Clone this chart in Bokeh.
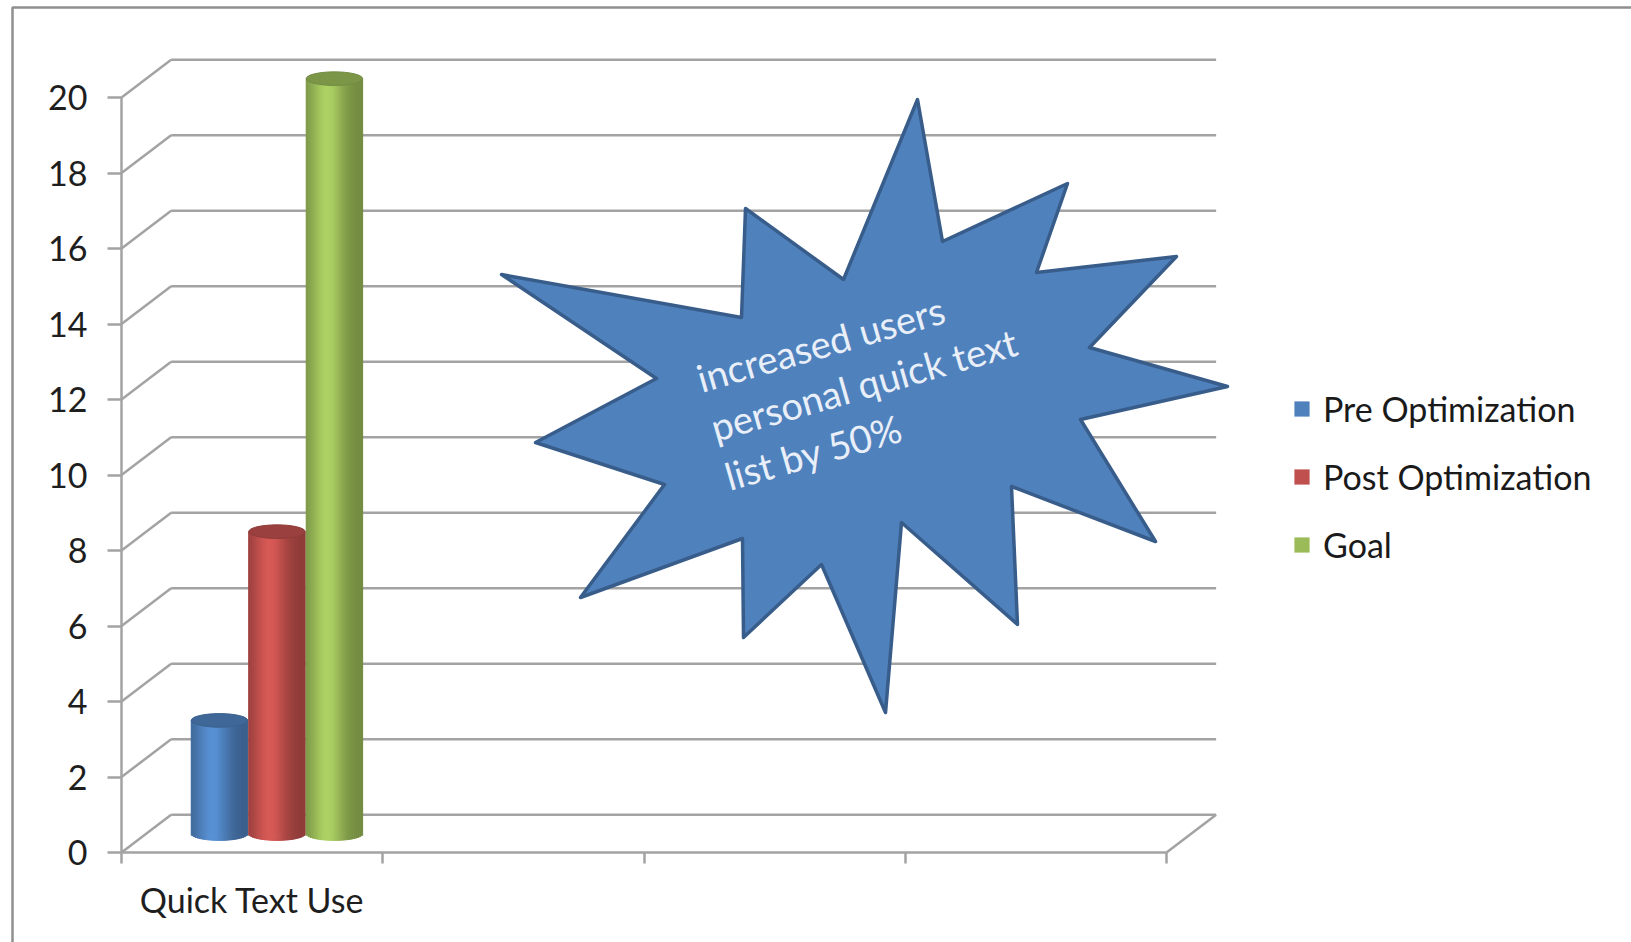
import math
from bokeh.plotting import figure
from bokeh.models import Range1d, FixedTicker, ColumnDataSource, Legend, LegendItem
from bokeh.core.properties import value
from bokeh.embed import file_html
from bokeh.resources import INLINE

# ---------------- data ----------------
categories = ["Quick Text Use", "", "", ""]
series = ["Pre Optimization", "Post Optimization", "Goal"]
values = [3, 8, 20]
colors = ["#4f81bd", "#c0504d", "#9bbb59"]
y_ticks = [0, 2, 4, 6, 8, 10, 12, 14, 16, 18, 20]
callout_lines = ["increased users", "personal quick text", "list by 50%"]

# ---------------- geometry / style ----------------
W, H = 1631, 942
X0_PX, X_UNIT = 121.0, 261.25      # pixel of x=0, pixels per category
Y0_PX, Y_UNIT = 852.0, 37.75       # pixel of y=0, pixels per unit
DX, DY = 0.19, 1.0                 # 3-D depth offset (data units)
BAR_STEP, BAR_W = 0.22, 0.216
ELL_H = 0.36
FONT = "Lato"
GRID = "#a3a3a3"


def px2x(px):
    return (px - X0_PX) / X_UNIT


def px2y(py):
    return (Y0_PX - py) / Y_UNIT


def shade(hexcol, f):
    r, g, b = int(hexcol[1:3], 16), int(hexcol[3:5], 16), int(hexcol[5:7], 16)
    c = [max(0, min(255, int(round(v * f)))) for v in (r, g, b)]
    return "#%02x%02x%02x" % tuple(c)


p = figure(width=W, height=H,
           x_range=Range1d(px2x(0), px2x(W)), y_range=Range1d(px2y(H), px2y(0)),
           output_backend="svg", toolbar_location=None, min_border=0,
           outline_line_color=None, background_fill_color="white",
           border_fill_color="white")
p.xgrid.visible = False
p.ygrid.visible = False

# outer chart border (top and left only visible)
p.line(x=[px2x(12), px2x(12), px2x(W + 5)], y=[px2y(H + 5), px2y(7), px2y(7)],
       line_color="#8f8f8f", line_width=2.5)

# ---------------- 3-D walls / gridlines ----------------
n_slots = len(categories)
back_xs, back_ys = [], []
for v in y_ticks:
    back_xs.append([DX, n_slots + DX])
    back_ys.append([v + DY, v + DY])
    back_xs.append([0, DX])
    back_ys.append([v, v + DY])
back_xs.append([n_slots, n_slots + DX])
back_ys.append([0, DY])
p.multi_line(xs=back_xs, ys=back_ys, line_color=GRID, line_width=2.5)

# ---------------- axes ----------------
ya = p.yaxis[0]
ya.fixed_location = 0
ya.bounds = (0, max(y_ticks))
ya.ticker = FixedTicker(ticks=y_ticks)
ya.axis_line_color = GRID
ya.axis_line_width = 2.5
ya.major_tick_line_color = GRID
ya.major_tick_line_width = 2.5
ya.major_tick_out = 14
ya.major_tick_in = 0
ya.minor_tick_line_color = None
ya.major_label_text_font = FONT
ya.major_label_text_font_size = "34px"
ya.major_label_text_color = "#1e1e1e"
ya.major_label_standoff = 20

label_pos = [i + 0.5 for i in range(n_slots)]
xa = p.xaxis[0]
xa.fixed_location = 0
xa.bounds = (0, n_slots)
xa.ticker = FixedTicker(ticks=label_pos, minor_ticks=list(range(n_slots + 1)))
xa.major_label_overrides = {pos: lab for pos, lab in zip(label_pos, categories)}
xa.axis_line_color = GRID
xa.axis_line_width = 2.5
xa.major_tick_line_color = None
xa.major_tick_out = 0
xa.major_tick_in = 0
xa.minor_tick_line_color = GRID
xa.minor_tick_line_width = 2.5
xa.minor_tick_out = 11
xa.minor_tick_in = 0
xa.major_label_text_font = FONT
xa.major_label_text_font_size = "34px"
xa.major_label_text_color = "#1e1e1e"
xa.major_label_standoff = 15

# ---------------- cylinders ----------------
centers = [0.5 + (i - 1) * BAR_STEP + DX / 2 for i in range(len(series))]
body_src = ColumnDataSource(dict(x=centers, top=[v + DY / 2 for v in values],
                                 bottom=[DY / 2] * len(values), color=colors))
body = p.vbar(x="x", top="top", bottom="bottom", width=BAR_W, fill_color="color",
              line_color=None, source=body_src)


def light(t):
    return 0.74 + 0.38 * math.exp(-((t - 0.38) / 0.30) ** 2)


NS = 30
L, R, T, B, C = [], [], [], [], []
for cx, v, col in zip(centers, values, colors):
    for k in range(NS):
        t0, t1 = k / NS, (k + 1) / NS
        tm = (t0 + t1) / 2
        L.append(cx - BAR_W / 2 + t0 * BAR_W)
        R.append(cx - BAR_W / 2 + t1 * BAR_W)
        T.append(v + DY / 2)
        B.append(DY / 2 - ELL_H / 2 * math.sqrt(max(0.0, 1 - (2 * tm - 1) ** 2)))
        C.append(shade(col, light(tm)))
p.quad(left=L, right=R, top=T, bottom=B, fill_color=C, line_color=C, line_width=1)

p.ellipse(x=centers, y=[v + DY / 2 for v in values], width=BAR_W, height=ELL_H,
          fill_color=[shade(c, 0.8) for c in colors], line_color=[shade(c, 0.75) for c in colors],
          line_width=1)

# ---------------- starburst callout ----------------
star_px = [(501, 274), (741, 317), (745, 208), (843, 279), (917, 99), (942, 241),
           (1067, 183), (1036, 272), (1176, 256), (1089, 347), (1227, 386), (1080, 419),
           (1155, 541), (1011, 486), (1017, 624), (901, 522), (885, 712), (821, 564),
           (743, 637), (742, 538), (580, 597), (664, 484), (535, 442), (656, 378)]
p.patch(x=[px2x(a) for a, b in star_px], y=[px2y(b) for a, b in star_px],
        fill_color="#4f81bd", line_color="#385d8a", line_width=3.5, line_join="round")

ang = math.radians(16)
sp = 51
x0, y0 = 697, 378
tx = [px2x(x0 + i * sp * math.sin(ang)) for i in range(len(callout_lines))]
ty = [px2y(y0 + i * sp * math.cos(ang)) for i in range(len(callout_lines))]
p.text(x=tx, y=ty, text=callout_lines, angle=ang, text_font=value(FONT),
       text_font_size="38px", text_color="#e9eff8", text_align="left",
       text_baseline="alphabetic")

# ---------------- legend ----------------
items = [LegendItem(label=s, renderers=[body], index=i) for i, s in enumerate(series)]
legend = Legend(items=items, location=(1292, 377), orientation="vertical",
                glyph_width=19, glyph_height=19, label_height=19,
                label_text_font=FONT, label_text_font_size="34px",
                label_text_color="#1a1a1a", label_standoff=12, spacing=27,
                padding=0, margin=0, border_line_color=None,
                background_fill_alpha=0)
p.add_layout(legend)

open("out.html", "w").write(file_html(p, INLINE))
